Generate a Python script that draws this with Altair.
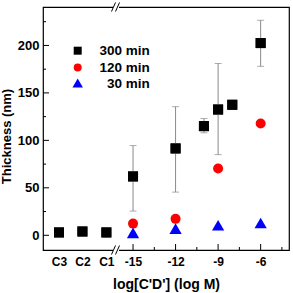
import altair as alt
import pandas as pd

# ---- data ----
c_labels = ["C3", "C2", "C1"]
c_pos = [-20.22, -18.57, -16.88]          # where the control samples sit on the axis
log_ticks = [-15, -12, -9, -6]
log_minor = [-13.5, -10.5, -7.5, -4.5]

x300 = c_pos + [-15, -12, -10, -9, -8, -6]
y300 = [3, 4, 3, 62, 91.5, 115, 132.5, 137.5, 202.5]
lo300 = [None, None, None, 25.5, 45.5, 108, 85, None, 178]
hi300 = [None, None, None, 94.5, 135.5, 123, 181, None, 226.5]

x120 = [-15, -12, -9, -6]
y120 = [12.3, 17.3, 70.3, 117.7]

x30 = [-15, -12, -9, -6]
y30 = [2.5, 7, 10.5, 13]
lo30 = [None, 1.5, 5.5, 8]
hi30 = [None, 10, 14, 16]

series_names = ["300 min", "120 min", "30 min"]
series_shapes = ["square", "circle", "triangle-up"]
series_colors = ["#000000", "#ff0000", "#0000ff"]

y_major = [0, 50, 100, 150, 200]
y_minor = [25, 75, 125, 175, 225]

W, H = 246, 243
FONT = "Liberation Sans"

xs = alt.Scale(domain=[-21.35, -4], nice=False, zero=False)
ys = alt.Scale(domain=[-15.5, 240.5], nice=False, zero=False)

df300 = pd.DataFrame({"x": x300, "y": y300, "lo": lo300, "hi": hi300})
df120 = pd.DataFrame({"x": x120, "y": y120})
df30 = pd.DataFrame({"x": x30, "y": y30, "lo": lo30, "hi": hi30})
err300 = df300.dropna()
err30 = df30.dropna()

label_expr = ("datum.value < -20 ? 'C3' : datum.value < -18 ? 'C2' : "
              "datum.value < -16 ? 'C1' : '' + datum.value")

xaxis = alt.Axis(values=c_pos + log_ticks, labelExpr=label_expr, grid=False,
                 domain=False, ticks=False, tickSize=0, labelPadding=6,
                 labelFont=FONT, labelFontSize=12, labelFontWeight="bold",
                 labelColor="black", title="log[C'D'] (log M)", titleFont=FONT,
                 titleFontSize=14, titleFontWeight="bold", titleColor="black",
                 titleBaseline="alphabetic", titleY=38)
yaxis = alt.Axis(values=y_major, grid=False, domain=False, ticks=False, tickSize=0,
                 labelPadding=4, labelFont=FONT, labelFontSize=13,
                 labelFontWeight="bold", labelColor="black",
                 title="Thickness (nm)", titleFont=FONT, titleFontSize=13,
                 titleFontWeight="bold", titleColor="black",
                 titleBaseline="alphabetic", titleX=-33, titleY=129)

base300 = alt.Chart(df300)
sq = base300.mark_point(shape="square", filled=True, size=100, opacity=1,
                        color="#000000").encode(
    x=alt.X("x:Q", scale=xs, axis=xaxis), y=alt.Y("y:Q", scale=ys, axis=yaxis))

eb300 = alt.Chart(err300).mark_rule(color="#8a8a8a", strokeWidth=1).encode(
    x=alt.X("x:Q", scale=xs), y=alt.Y("lo:Q", scale=ys), y2="hi:Q")
cap_lo = alt.Chart(err300).mark_tick(color="#8a8a8a", orient="horizontal",
                                     size=7, thickness=1).encode(
    x=alt.X("x:Q", scale=xs), y=alt.Y("lo:Q", scale=ys))
cap_hi = alt.Chart(err300).mark_tick(color="#8a8a8a", orient="horizontal",
                                     size=7, thickness=1).encode(
    x=alt.X("x:Q", scale=xs), y=alt.Y("hi:Q", scale=ys))

circ = alt.Chart(df120).mark_point(shape="circle", filled=True, size=100,
                                   opacity=1, color="#ff0000").encode(
    x=alt.X("x:Q", scale=xs), y=alt.Y("y:Q", scale=ys))

eb30 = alt.Chart(err30).mark_rule(color="#9aa0d8", strokeWidth=1).encode(
    x=alt.X("x:Q", scale=xs), y=alt.Y("lo:Q", scale=ys), y2="hi:Q")
tri = alt.Chart(df30).mark_point(shape="triangle-up", filled=True, size=150,
                                 opacity=1, color="#0000ff").encode(
    x=alt.X("x:Q", scale=xs), y=alt.Y("y:Q", scale=ys))

# inward ticks
tick_df_y = pd.DataFrame({"v": y_major})
tick_df_ym = pd.DataFrame({"v": y_minor})
tick_df_x = pd.DataFrame({"v": log_ticks})
tick_df_xm = pd.DataFrame({"v": log_minor})
ty = alt.Chart(tick_df_y).mark_rule(color="black").encode(
    y=alt.Y("v:Q", scale=ys), x=alt.value(0), x2=alt.value(6))
tym = alt.Chart(tick_df_ym).mark_rule(color="black").encode(
    y=alt.Y("v:Q", scale=ys), x=alt.value(0), x2=alt.value(3))
tx = alt.Chart(tick_df_x).mark_rule(color="black").encode(
    x=alt.X("v:Q", scale=xs), y=alt.value(H), y2=alt.value(H - 6))
txm = alt.Chart(tick_df_xm).mark_rule(color="black").encode(
    x=alt.X("v:Q", scale=xs), y=alt.value(H), y2=alt.value(H - 3))

# axis-break marks
one = alt.Data(values=[{}])
breaks = []
for yy in [0, H]:
    breaks.append(alt.Chart(one).mark_rule(color="white", strokeWidth=3).encode(
        x=alt.value(70), x2=alt.value(76), y=alt.value(yy)))
    for bx in [68.5, 72.5]:
        breaks.append(alt.Chart(one).mark_rule(color="black", strokeWidth=1).encode(
            x=alt.value(bx), x2=alt.value(bx + 4),
            y=alt.value(yy + 4.5), y2=alt.value(yy - 4.5)))

# legend drawn inside the plot
leg = []
leg_y = [43.7, 60.4, 76]
leg_sizes = [64, 64, 110]
for name, shp, col, ly, sz in zip(series_names, series_shapes, series_colors, leg_y, leg_sizes):
    leg.append(alt.Chart(one).mark_point(shape=shp, filled=True, size=sz, opacity=1,
                                         color=col).encode(
        x=alt.value(34.7), y=alt.value(ly)))
    leg.append(alt.Chart(alt.Data(values=[{"t": name}])).mark_text(
        align="right", baseline="middle", font=FONT, fontSize=13.5,
        fontWeight="bold", color="black").encode(
        text="t:N", x=alt.value(106.7), y=alt.value(ly + 0.5)))

chart = alt.layer(
    sq, eb300, cap_lo, cap_hi, eb30, circ, tri, sq, ty, tym, tx, txm, *breaks, *leg
).properties(
    width=W, height=H,
    autosize=alt.AutoSizeParams(type="none"),
    padding={"left": 43, "top": 7, "right": 4, "bottom": 43},
    background="white",
).configure_view(stroke="black", strokeWidth=1.2)

chart.save("out.html", embed_options={"renderer": "svg", "actions": False})
